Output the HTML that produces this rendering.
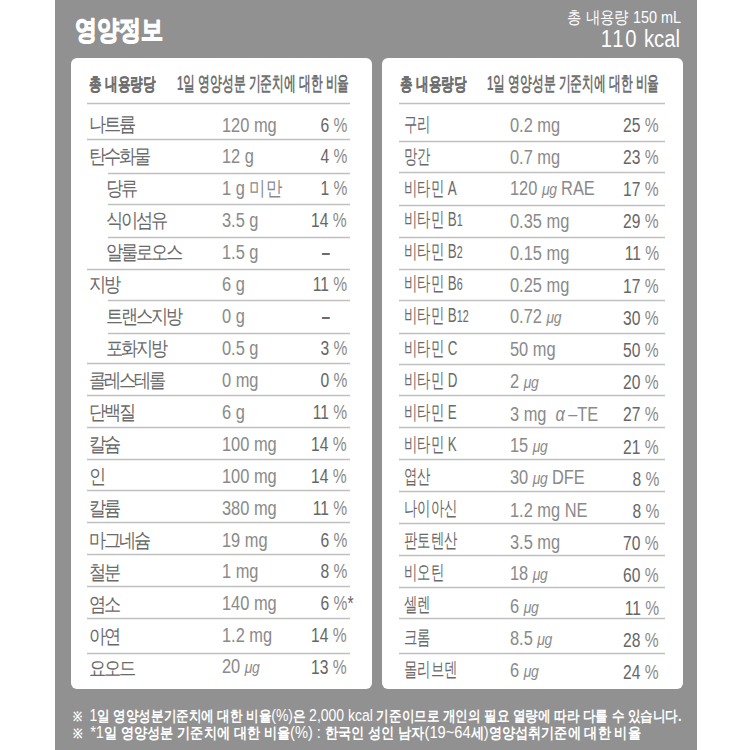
<!DOCTYPE html>
<html><head><meta charset="utf-8">
<style>
html,body{margin:0;padding:0;width:750px;height:750px;overflow:hidden;background:#fff;}
body{position:relative;font-family:"Liberation Sans",sans-serif;}
.bg{position:absolute;left:55px;top:0;width:642px;height:750px;background:#919191;}
.title{position:absolute;left:75px;top:15px;font-size:27px;font-weight:bold;color:#fff;line-height:30px;white-space:nowrap;transform:scaleX(0.815);transform-origin:0 0;-webkit-text-stroke:1.3px #fff;}
.vol{position:absolute;right:69px;top:8px;font-size:17px;color:#fff;line-height:20px;white-space:nowrap;transform:scaleX(0.85);transform-origin:100% 0;}
.kcal{position:absolute;right:70px;top:27px;font-size:23px;color:#fff;line-height:24px;white-space:nowrap;transform:scaleX(0.88);transform-origin:100% 0;}
.panel{position:absolute;top:58px;width:301px;height:631px;background:#fff;border-radius:6px;}
.hdr{position:absolute;top:72.3px;font-size:18.4px;font-weight:bold;color:#6e6e6e;line-height:24px;white-space:nowrap;transform:scaleX(0.70);transform-origin:0 0;-webkit-text-stroke:0.15px #6e6e6e;}
.hdr2{position:absolute;top:71.3px;font-size:19.5px;font-weight:bold;color:#707070;line-height:24px;white-space:nowrap;transform:scaleX(0.5886);transform-origin:0 0;}
.ln{position:absolute;height:1px;background:#c0c0c0;box-shadow:0 1px 0 #eeeeee,0 -1px 0 #f0f0f0;}
.t{position:absolute;font-size:20px;color:#858585;line-height:24px;white-space:nowrap;transform:translateY(-50%) scaleX(0.82);transform-origin:0 50%;}
.nm{transform:translateY(-50%) scaleX(0.858);letter-spacing:-2.5px;color:#6a6a6a;}
.nmr{transform:translateY(-50%) scaleX(0.668);letter-spacing:0;}
.am{color:#8a8a8a;}
.pcs{color:#8a8a8a;}
.pc{transform-origin:100% 50%;transform:translateY(-50%) scaleX(0.78);color:#666;}
.ast{position:absolute;left:100%;top:0;}
.dash{font-weight:bold;color:#6a6a6a;}
.t sub{font-size:16px;vertical-align:baseline;}
.mu{font-style:italic;font-size:17px;letter-spacing:-0.5px;}
.n{font-weight:normal;font-size:16.7px;}
.rx{font-size:13px;font-weight:bold;}
.note{position:absolute;left:72.7px;font-size:15.4px;font-weight:bold;color:#fff;line-height:16px;white-space:nowrap;transform-origin:0 0;}
</style></head><body>
<div class="bg"></div>
<div class="title">영양정보</div>
<div class="vol">총 내용량 150 mL</div>
<div class="kcal"><span style="letter-spacing:2px">110</span> kcal</div>
<div class="panel" style="left:71px"></div>
<div class="hdr" style="left:89px">총 내용량당</div>
<div class="hdr2" style="left:176.8px">1일 영양성분 기준치에 대한 비율</div>
<div class="ln" style="left:87px;top:103px;width:263px"></div>
<div class="t nm" style="left:88.7px;top:123.5px">나트륨</div>
<div class="t am" style="left:222px;top:124.5px">120 mg</div>
<div class="t pc" style="right:403px;top:124.5px">6<span class="pcs"> %</span></div>
<div class="ln" style="left:87px;top:139px;width:263px"></div>
<div class="t nm" style="left:88.7px;top:155.5px">탄수화물</div>
<div class="t am" style="left:222px;top:156.4px">12 g</div>
<div class="t pc" style="right:403px;top:156.4px">4<span class="pcs"> %</span></div>
<div class="ln" style="left:108px;top:173px;width:242px"></div>
<div class="t nm" style="left:106px;top:187.5px">당류</div>
<div class="t am" style="left:222px;top:188.3px">1 g 미만</div>
<div class="t pc" style="right:403px;top:188.3px">1<span class="pcs"> %</span></div>
<div class="ln" style="left:108px;top:204px;width:242px"></div>
<div class="t nm" style="left:106px;top:219.5px">식이섬유</div>
<div class="t am" style="left:222px;top:220.3px">3.5 g</div>
<div class="t pc" style="right:403px;top:220.3px">14<span class="pcs"> %</span></div>
<div class="ln" style="left:108px;top:237px;width:242px"></div>
<div class="t nm" style="left:106px;top:251.5px">알룰로오스</div>
<div class="t am" style="left:222px;top:252.2px">1.5 g</div>
<div class="t pc dash" style="right:420px;top:252.2px">–</div>
<div class="ln" style="left:87px;top:269px;width:263px"></div>
<div class="t nm" style="left:88.7px;top:283.5px">지방</div>
<div class="t am" style="left:222px;top:284.1px">6 g</div>
<div class="t pc" style="right:403px;top:284.1px">11<span class="pcs"> %</span></div>
<div class="ln" style="left:108px;top:300px;width:242px"></div>
<div class="t nm" style="left:106px;top:315.5px">트랜스지방</div>
<div class="t am" style="left:222px;top:316.0px">0 g</div>
<div class="t pc dash" style="right:420px;top:316.0px">–</div>
<div class="ln" style="left:108px;top:333px;width:242px"></div>
<div class="t nm" style="left:106px;top:347.5px">포화지방</div>
<div class="t am" style="left:222px;top:347.9px">0.5 g</div>
<div class="t pc" style="right:403px;top:347.9px">3<span class="pcs"> %</span></div>
<div class="ln" style="left:87px;top:363px;width:263px"></div>
<div class="t nm" style="left:88.7px;top:379.5px">콜레스테롤</div>
<div class="t am" style="left:222px;top:379.9px">0 mg</div>
<div class="t pc" style="right:403px;top:379.9px">0<span class="pcs"> %</span></div>
<div class="ln" style="left:87px;top:395px;width:263px"></div>
<div class="t nm" style="left:88.7px;top:411.5px">단백질</div>
<div class="t am" style="left:222px;top:411.8px">6 g</div>
<div class="t pc" style="right:403px;top:411.8px">11<span class="pcs"> %</span></div>
<div class="ln" style="left:87px;top:427px;width:263px"></div>
<div class="t nm" style="left:88.7px;top:443.5px">칼슘</div>
<div class="t am" style="left:222px;top:443.7px">100 mg</div>
<div class="t pc" style="right:403px;top:443.7px">14<span class="pcs"> %</span></div>
<div class="ln" style="left:87px;top:459px;width:263px"></div>
<div class="t nm" style="left:88.7px;top:475.5px">인</div>
<div class="t am" style="left:222px;top:475.6px">100 mg</div>
<div class="t pc" style="right:403px;top:475.6px">14<span class="pcs"> %</span></div>
<div class="ln" style="left:87px;top:490px;width:263px"></div>
<div class="t nm" style="left:88.7px;top:507.5px">칼륨</div>
<div class="t am" style="left:222px;top:507.5px">380 mg</div>
<div class="t pc" style="right:403px;top:507.5px">11<span class="pcs"> %</span></div>
<div class="ln" style="left:87px;top:522px;width:263px"></div>
<div class="t nm" style="left:88.7px;top:539.5px">마그네슘</div>
<div class="t am" style="left:222px;top:539.5px">19 mg</div>
<div class="t pc" style="right:403px;top:539.5px">6<span class="pcs"> %</span></div>
<div class="ln" style="left:87px;top:554px;width:263px"></div>
<div class="t nm" style="left:88.7px;top:571.5px">철분</div>
<div class="t am" style="left:222px;top:571.4px">1 mg</div>
<div class="t pc" style="right:403px;top:571.4px">8<span class="pcs"> %</span></div>
<div class="ln" style="left:87px;top:586px;width:263px"></div>
<div class="t nm" style="left:88.7px;top:603.5px">염소</div>
<div class="t am" style="left:222px;top:603.3px">140 mg</div>
<div class="t pc" style="right:403px;top:603.3px">6<span class="pcs"> %</span><span class="ast">*</span></div>
<div class="ln" style="left:87px;top:618px;width:263px"></div>
<div class="t nm" style="left:88.7px;top:635.5px">아연</div>
<div class="t am" style="left:222px;top:635.2px">1.2 mg</div>
<div class="t pc" style="right:403px;top:635.2px">14<span class="pcs"> %</span></div>
<div class="ln" style="left:87px;top:653px;width:263px"></div>
<div class="t nm" style="left:88.7px;top:667.5px">요오드</div>
<div class="t am" style="left:222px;top:667.1px">20 <span class="mu">μg</span></div>
<div class="t pc" style="right:403px;top:667.1px">13<span class="pcs"> %</span></div>
<div class="panel" style="left:382px"></div>
<div class="hdr" style="left:400px">총 내용량당</div>
<div class="hdr2" style="left:486.5px">1일 영양성분 기준치에 대한 비율</div>
<div class="ln" style="left:399px;top:103px;width:266px"></div>
<div class="t nm nmr" style="left:404px;top:123.5px">구리</div>
<div class="t am" style="left:510px;top:124.5px">0.2 mg</div>
<div class="t pc" style="right:91px;top:124.5px">25<span class="pcs"> %</span></div>
<div class="ln" style="left:399px;top:141px;width:266px"></div>
<div class="t nm nmr" style="left:404px;top:155.6px">망간</div>
<div class="t am" style="left:510px;top:156.6px">0.7 mg</div>
<div class="t pc" style="right:91px;top:156.7px">23<span class="pcs"> %</span></div>
<div class="ln" style="left:399px;top:172px;width:266px"></div>
<div class="t nm nmr" style="left:404px;top:187.6px">비타민 A</div>
<div class="t am" style="left:510px;top:188.8px">120 <span class="mu">μg</span> RAE</div>
<div class="t pc" style="right:91px;top:188.9px">17<span class="pcs"> %</span></div>
<div class="ln" style="left:399px;top:205px;width:266px"></div>
<div class="t nm nmr" style="left:404px;top:219.7px">비타민 B<sub>1</sub></div>
<div class="t am" style="left:510px;top:220.9px">0.35 mg</div>
<div class="t pc" style="right:91px;top:221.1px">29<span class="pcs"> %</span></div>
<div class="ln" style="left:399px;top:237px;width:266px"></div>
<div class="t nm nmr" style="left:404px;top:251.7px">비타민 B<sub>2</sub></div>
<div class="t am" style="left:510px;top:253.0px">0.15 mg</div>
<div class="t pc" style="right:91px;top:253.3px">11<span class="pcs"> %</span></div>
<div class="ln" style="left:399px;top:269px;width:266px"></div>
<div class="t nm nmr" style="left:404px;top:283.8px">비타민 B<sub>6</sub></div>
<div class="t am" style="left:510px;top:285.2px">0.25 mg</div>
<div class="t pc" style="right:91px;top:285.5px">17<span class="pcs"> %</span></div>
<div class="ln" style="left:399px;top:300px;width:266px"></div>
<div class="t nm nmr" style="left:404px;top:315.9px">비타민 B<sub>12</sub></div>
<div class="t am" style="left:510px;top:317.3px">0.72 <span class="mu">μg</span></div>
<div class="t pc" style="right:91px;top:317.7px">30<span class="pcs"> %</span></div>
<div class="ln" style="left:399px;top:333px;width:266px"></div>
<div class="t nm nmr" style="left:404px;top:347.9px">비타민 C</div>
<div class="t am" style="left:510px;top:349.4px">50 mg</div>
<div class="t pc" style="right:91px;top:349.9px">50<span class="pcs"> %</span></div>
<div class="ln" style="left:399px;top:364px;width:266px"></div>
<div class="t nm nmr" style="left:404px;top:380.0px">비타민 D</div>
<div class="t am" style="left:510px;top:381.5px">2 <span class="mu">μg</span></div>
<div class="t pc" style="right:91px;top:382.1px">20<span class="pcs"> %</span></div>
<div class="ln" style="left:399px;top:395px;width:266px"></div>
<div class="t nm nmr" style="left:404px;top:412.0px">비타민 E</div>
<div class="t am" style="left:510px;top:413.7px">3 mg&nbsp; <i>α</i>&thinsp;–TE</div>
<div class="t pc" style="right:91px;top:414.3px">27<span class="pcs"> %</span></div>
<div class="ln" style="left:399px;top:427px;width:266px"></div>
<div class="t nm nmr" style="left:404px;top:444.1px">비타민 K</div>
<div class="t am" style="left:510px;top:445.8px">15 <span class="mu">μg</span></div>
<div class="t pc" style="right:91px;top:446.5px">21<span class="pcs"> %</span></div>
<div class="ln" style="left:399px;top:459px;width:266px"></div>
<div class="t nm nmr" style="left:404px;top:476.2px">엽산</div>
<div class="t am" style="left:510px;top:477.9px">30 <span class="mu">μg</span> DFE</div>
<div class="t pc" style="right:91px;top:478.7px">8<span class="pcs"> %</span></div>
<div class="ln" style="left:399px;top:491px;width:266px"></div>
<div class="t nm nmr" style="left:404px;top:508.2px">나이아신</div>
<div class="t am" style="left:510px;top:510.1px">1.2 mg NE</div>
<div class="t pc" style="right:91px;top:510.9px">8<span class="pcs"> %</span></div>
<div class="ln" style="left:399px;top:523px;width:266px"></div>
<div class="t nm nmr" style="left:404px;top:540.3px">판토텐산</div>
<div class="t am" style="left:510px;top:542.2px">3.5 mg</div>
<div class="t pc" style="right:91px;top:543.1px">70<span class="pcs"> %</span></div>
<div class="ln" style="left:399px;top:555px;width:266px"></div>
<div class="t nm nmr" style="left:404px;top:572.3px">비오틴</div>
<div class="t am" style="left:510px;top:574.3px">18 <span class="mu">μg</span></div>
<div class="t pc" style="right:91px;top:575.3px">60<span class="pcs"> %</span></div>
<div class="ln" style="left:399px;top:587px;width:266px"></div>
<div class="t nm nmr" style="left:404px;top:604.4px">셀렌</div>
<div class="t am" style="left:510px;top:606.5px">6 <span class="mu">μg</span></div>
<div class="t pc" style="right:91px;top:607.5px">11<span class="pcs"> %</span></div>
<div class="ln" style="left:399px;top:618px;width:266px"></div>
<div class="t nm nmr" style="left:404px;top:636.5px">크롬</div>
<div class="t am" style="left:510px;top:638.6px">8.5 <span class="mu">μg</span></div>
<div class="t pc" style="right:91px;top:639.7px">28<span class="pcs"> %</span></div>
<div class="ln" style="left:399px;top:653px;width:266px"></div>
<div class="t nm nmr" style="left:404px;top:668.5px">몰리브덴</div>
<div class="t am" style="left:510px;top:670.7px">6 <span class="mu">μg</span></div>
<div class="t pc" style="right:91px;top:671.9px">24<span class="pcs"> %</span></div>
<div class="note" style="top:708px;transform:scaleX(0.8376)"><span class="rx">※</span>&nbsp; <span class="n">1</span>일 영양성분기준치에 대한 비율<span class="n">(%)</span>은 <span class="n">2,000 kcal</span> 기준이므로 개인의 필요 열량에 따라 다를 수 있습니다.</div>
<div class="note" style="top:725px;transform:scaleX(0.877)"><span class="rx">※</span>&nbsp; <span class="n">*1</span>일 영양성분 기준치에 대한 비율<span class="n">(%) : </span>한국인 성인 남자<span class="n">(19~64</span>세<span class="n">)</span>영양섭취기준에 대한 비율</div>
</body></html>
